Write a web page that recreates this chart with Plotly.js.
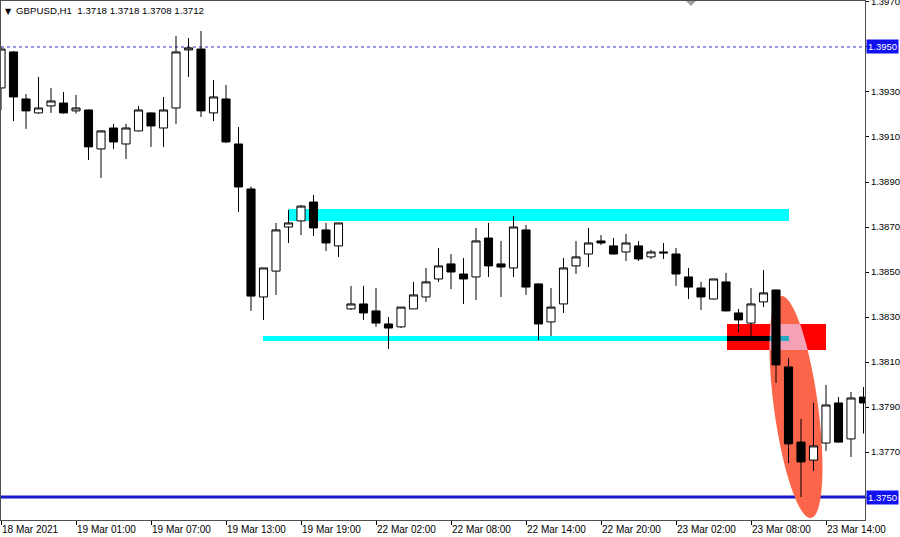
<!DOCTYPE html>
<html>
<head>
<meta charset="utf-8">
<script src="https://cdn.plot.ly/plotly-3.0.1.min.js"></script>
<style>
html,body{margin:0;padding:0;background:#fff;}
#chart{width:900px;height:537px;}
</style>
</head>
<body>
<div id="chart"></div>
<script>
// ---- Data (GBPUSD, H1) ----
const openP = [1.39318,1.39478,1.39269,1.39207,1.39238,1.39251,1.39216,1.39220,1.39047,1.39140,
  1.39069,1.39127,1.39207,1.39140,1.39229,1.39487,1.39491,1.39207,1.39269,1.39069,
  1.38869,1.38389,1.38504,1.38700,1.38727,1.38811,1.38687,1.38616,1.38336,1.38358,
  1.38327,1.38269,1.38256,1.38336,1.38389,1.38469,1.38536,1.38491,1.38478,1.38651,
  1.38536,1.38518,1.38687,1.38447,1.38278,1.38358,1.38527,1.38580,1.38638,1.38616,
  1.38589,1.38616,1.38567,1.38589,1.38580,1.38478,1.38429,1.38380,1.38456,1.38318,
  1.38273,1.38367,1.38420,1.38078,1.37744,1.37664,1.37740,1.37918,1.37758,1.37944];
const highP = [1.39500,1.39482,1.39291,1.39367,1.39318,1.39300,1.39287,1.39222,1.39129,1.39158,
  1.39158,1.39238,1.39209,1.39278,1.39549,1.39540,1.39571,1.39353,1.39331,1.39144,
  1.38880,1.38518,1.38718,1.38776,1.38798,1.38842,1.38718,1.38718,1.38438,1.38438,
  1.38429,1.38300,1.38344,1.38456,1.38518,1.38607,1.38580,1.38562,1.38696,1.38718,
  1.38638,1.38749,1.38709,1.38449,1.38429,1.38562,1.38638,1.38696,1.38664,1.38651,
  1.38669,1.38638,1.38598,1.38629,1.38607,1.38518,1.38456,1.38469,1.38496,1.38336,
  1.38429,1.38509,1.38422,1.38118,1.37847,1.37918,1.37998,1.37944,1.37967,1.37989];
const lowP = [1.39220,1.39171,1.39136,1.39204,1.39207,1.39204,1.39204,1.38998,1.38918,1.39047,
  1.39002,1.39125,1.39056,1.39056,1.39158,1.39367,1.39189,1.39171,1.39073,1.38767,
  1.38327,1.38287,1.38398,1.38629,1.38664,1.38660,1.38593,1.38567,1.38331,1.38287,
  1.38256,1.38158,1.38251,1.38336,1.38367,1.38456,1.38424,1.38358,1.38376,1.38478,
  1.38389,1.38478,1.38398,1.38198,1.38216,1.38318,1.38491,1.38522,1.38620,1.38578,
  1.38549,1.38549,1.38558,1.38558,1.38438,1.38380,1.38331,1.38378,1.38325,1.38233,
  1.38211,1.38344,1.38007,1.37651,1.37500,1.37616,1.37705,1.37742,1.37678,1.37782];
const closeP = [1.39491,1.39278,1.39216,1.39229,1.39260,1.39207,1.39229,1.39056,1.39127,1.39078,
  1.39140,1.39220,1.39149,1.39220,1.39478,1.39496,1.39216,1.39278,1.39078,1.38878,
  1.38393,1.38518,1.38687,1.38718,1.38793,1.38696,1.38629,1.38718,1.38358,1.38318,
  1.38273,1.38251,1.38344,1.38398,1.38456,1.38527,1.38500,1.38469,1.38638,1.38527,
  1.38522,1.38700,1.38433,1.38269,1.38344,1.38518,1.38567,1.38629,1.38629,1.38580,
  1.38629,1.38558,1.38589,1.38585,1.38491,1.38433,1.38389,1.38469,1.38327,1.38287,
  1.38358,1.38407,1.38087,1.37736,1.37656,1.37727,1.37909,1.37744,1.37940,1.37918];

const timeLabels = ["18 Mar 2021","19 Mar 01:00","19 Mar 07:00","19 Mar 13:00","19 Mar 19:00",
  "22 Mar 02:00","22 Mar 08:00","22 Mar 14:00","22 Mar 20:00","23 Mar 02:00","23 Mar 08:00","23 Mar 14:00"];
const barsPerLabel = 6;

const priceTicks = [1.3750,1.3770,1.3790,1.3810,1.3830,1.3850,1.3870,1.3890,1.3910,1.3930,1.3950,1.3970];
const markedLevels = [1.3950, 1.3750]; // highlighted price labels
const headerText = "GBPUSD,H1  1.3718 1.3718 1.3708 1.3712";

// drawn objects (bar index, price)
const resistanceZone = {x0: 23.04, x1: 63.04, y0: 1.38727, y1: 1.38780};
const supportLine = {x0: 20.96, x1: 63.04, y0: 1.38193, y1: 1.38216};
const redZone = {x0: 58.08, x1: 66.0, y0: 1.38153, y1: 1.38269};
const ellipseTop = {x: 62.4, y: 1.38393};
const ellipseBottom = {x: 64.8, y: 1.37407};
const dottedLevel = 1.3950;
const solidLevel = 1.3750;

// ---- Layout geometry ----
const W = 900, H = 537;
const M = {l: 1, r: 35, t: 1, b: 17};
const plotW = W - M.l - M.r, plotH = H - M.t - M.b;
const xRange = [0, 69.12];
const yRange = [1.373978, 1.397044];
const pxPerBar = plotW / (xRange[1] - xRange[0]);
const pxPerPrice = plotH / (yRange[1] - yRange[0]);

const xIdx = openP.map((_, i) => i);
const tickIdx = timeLabels.map((_, i) => i * barsPerLabel);

// ellipse polygon (computed in pixel space, converted back to data)
function ellipsePts(n) {
  const ax = ellipseTop.x * pxPerBar, ay = -ellipseTop.y * pxPerPrice;
  const bx = ellipseBottom.x * pxPerBar, by = -ellipseBottom.y * pxPerPrice;
  const cx = (ax + bx) / 2, cy = (ay + by) / 2;
  const dx = bx - ax, dy = by - ay;
  const len = Math.hypot(dx, dy);
  const a = len / 2, b = 22;
  const ux = dx / len, uy = dy / len;
  const vx = uy, vy = -ux;
  const pts = [];
  for (let k = 0; k < n; k++) {
    const t = 2 * Math.PI * k / n;
    const px = cx + a * Math.cos(t) * ux + b * Math.sin(t) * vx;
    const py = cy + a * Math.cos(t) * uy + b * Math.sin(t) * vy;
    pts.push([px / pxPerBar, -py / pxPerPrice]);
  }
  return pts;
}
function clip(poly, r) {
  const edges = [
    p => p[0] >= r.x0, p => p[0] <= r.x1, p => p[1] >= r.y0, p => p[1] <= r.y1
  ];
  const inter = [
    (p, q) => { const t = (r.x0 - p[0]) / (q[0] - p[0]); return [r.x0, p[1] + t * (q[1] - p[1])]; },
    (p, q) => { const t = (r.x1 - p[0]) / (q[0] - p[0]); return [r.x1, p[1] + t * (q[1] - p[1])]; },
    (p, q) => { const t = (r.y0 - p[1]) / (q[1] - p[1]); return [p[0] + t * (q[0] - p[0]), r.y0]; },
    (p, q) => { const t = (r.y1 - p[1]) / (q[1] - p[1]); return [p[0] + t * (q[0] - p[0]), r.y1]; }
  ];
  let out = poly;
  for (let e = 0; e < 4; e++) {
    const inp = out; out = [];
    for (let i = 0; i < inp.length; i++) {
      const cur = inp[i], prev = inp[(i + inp.length - 1) % inp.length];
      const cIn = edges[e](cur), pIn = edges[e](prev);
      if (cIn) { if (!pIn) out.push(inter[e](prev, cur)); out.push(cur); }
      else if (pIn) out.push(inter[e](prev, cur));
    }
    if (!out.length) break;
  }
  return out;
}
function pathOf(pts) {
  return 'M' + pts.map(p => p[0].toFixed(4) + ',' + p[1].toFixed(6)).join('L') + 'Z';
}
const ell = ellipsePts(120);
const pink = clip(ell, redZone);
const cyanRed = {x0: redZone.x0, x1: supportLine.x1, y0: supportLine.y0, y1: supportLine.y1};
const teal = clip(ell, cyanRed);

function rect(r, color) {
  return {type: 'rect', xref: 'x', yref: 'y', x0: r.x0, x1: r.x1, y0: r.y0, y1: r.y1,
    fillcolor: color, line: {width: 0}, layer: 'below'};
}
function poly(pts, color) {
  return {type: 'path', xref: 'x', yref: 'y', path: pathOf(pts), fillcolor: color,
    line: {width: 0}, layer: 'below'};
}

const shapes = [
  rect(resistanceZone, '#00ffff'),
  rect(supportLine, '#00ffff'),
  rect(redZone, '#ff0000'),
  poly(ell, '#fb6549'),
  poly(pink, '#f5a2b6'),
  rect(cyanRed, '#000000'),
  poly(teal, '#22a9bf'),
  {type: 'line', xref: 'paper', yref: 'y', x0: 0, x1: 1, y0: dottedLevel, y1: dottedLevel,
   line: {color: '#3030c0', width: 1, dash: 'dot'}, layer: 'below'},
  {type: 'line', xref: 'paper', yref: 'y', x0: 0, x1: 1, y0: solidLevel, y1: solidLevel,
   line: {color: '#1616cc', width: 3}, layer: 'below'},
  // shift marker at top
  {type: 'path', xref: 'paper', yref: 'paper',
   path: 'M' + ((686 - M.l) / plotW) + ',1 L' + ((696 - M.l) / plotW) + ',1 L' + ((691 - M.l) / plotW) + ',' + (1 - 5 / plotH) + ' Z',
   fillcolor: '#a0a0a0', line: {width: 0}, layer: 'above'}
];

const annotations = markedLevels.map(v => ({
  xref: 'paper', yref: 'y', x: 1, y: v, xanchor: 'left', yanchor: 'middle', xshift: 1,
  text: v.toFixed(4), showarrow: false, bgcolor: '#1010f0', borderpad: 1,
  font: {family: 'Liberation Sans, Arial, sans-serif', size: 9.5, color: '#ffffff'}
}));
annotations.push({
  xref: 'paper', yref: 'paper', x: (3 - M.l) / plotW, y: 1, xanchor: 'left', yanchor: 'top', yshift: -4,
  text: '▼', showarrow: false, font: {family: 'DejaVu Sans, sans-serif', size: 8, color: '#000'}
});
annotations.push({
  xref: 'paper', yref: 'paper', x: (14 - M.l) / plotW, y: 1, xanchor: 'left', yanchor: 'top', yshift: -2,
  text: headerText.replace(/ /g, '&nbsp;'), showarrow: false,
  font: {family: 'Liberation Sans, Arial, sans-serif', size: 9.7, color: '#000'}
});

const trace = {
  type: 'candlestick',
  x: xIdx, open: openP, high: highP, low: lowP, close: closeP,
  increasing: {line: {color: '#000000', width: 1}, fillcolor: '#ffffff'},
  decreasing: {line: {color: '#000000', width: 1}, fillcolor: '#000000'},
  whiskerwidth: 0,
  hoverinfo: 'skip',
  showlegend: false
};

const layout = {
  width: W, height: H,
  margin: M,
  paper_bgcolor: '#ffffff', plot_bgcolor: '#ffffff',
  showlegend: false,
  boxgap: 0.35, boxgroupgap: 0,
  font: {family: 'Liberation Sans, Arial, sans-serif', size: 10, color: '#000'},
  xaxis: {
    range: xRange, showgrid: false, zeroline: false,
    rangeslider: {visible: false},
    tickmode: 'array', tickvals: tickIdx, ticktext: timeLabels,
    ticks: 'outside', ticklen: 4, tickcolor: '#000', tickwidth: 1,
    ticklabelposition: 'outside right',
    showline: true, linecolor: '#505050', linewidth: 1, mirror: true,
    tickfont: {size: 10, color: '#000'}
  },
  yaxis: {
    range: yRange, side: 'right', showgrid: false, zeroline: false,
    tickmode: 'array', tickvals: priceTicks,
    ticktext: priceTicks.map(v => markedLevels.some(m => Math.abs(m - v) < 1e-9) ? '' : v.toFixed(4)),
    ticks: 'outside', ticklen: 3, tickcolor: '#000', tickwidth: 1,
    ticklabeloverflow: 'allow',
    showline: true, linecolor: '#505050', linewidth: 1, mirror: true,
    tickfont: {size: 9.5, color: '#000'}
  },
  shapes: shapes,
  annotations: annotations
};

Plotly.newPlot('chart', [trace], layout, {staticPlot: true, displayModeBar: false});
</script>
</body>
</html>
